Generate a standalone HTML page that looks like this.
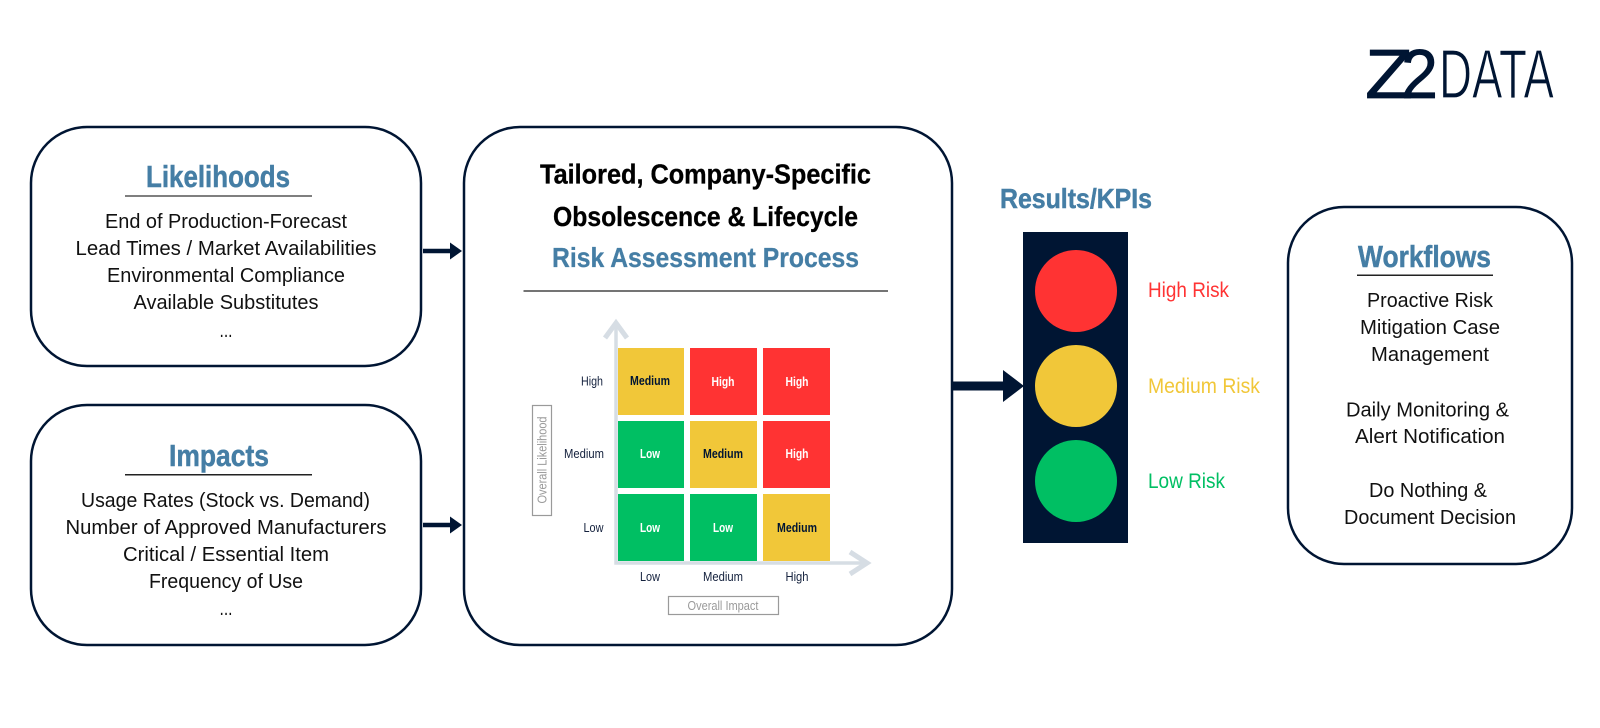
<!DOCTYPE html>
<html lang="en">
<head>
<meta charset="utf-8">
<title>Risk Assessment Process</title>
<style>
html,body{margin:0;padding:0;background:#fff;width:1600px;height:728px;overflow:hidden}
svg{display:block}
text{font-family:"Liberation Sans",sans-serif}
.b{fill:#111;font-size:20px}
.t{fill:#457ea5;stroke:#457ea5;stroke-width:.5px;font-weight:700;font-size:31px}
.c{font-weight:700;font-size:28px;fill:#000;stroke:#000;stroke-width:.3px}
.m{font-size:13px;font-weight:700}
.a{font-size:12.5px;fill:#14213d}
.g{font-size:12.5px;fill:#9a9a9a}
.r{font-size:21px}
</style>
</head>
<body>
<svg width="1600" height="728" viewBox="0 0 1600 728" xmlns="http://www.w3.org/2000/svg" text-anchor="middle">
<rect width="1600" height="728" fill="#fff"/>

<!-- logo -->
<text x="1365" y="98" font-size="70" fill="#001533" stroke="#001533" stroke-width=".8" text-anchor="start" textLength="48" lengthAdjust="spacingAndGlyphs">Z</text>
<text x="1401" y="98" font-size="70" fill="#001533" stroke="#001533" stroke-width=".8" text-anchor="start" textLength="37" lengthAdjust="spacingAndGlyphs">2</text>
<text x="1439" y="98" font-size="70" fill="#001533" stroke="#fff" stroke-width="1.2" text-anchor="start" textLength="115" lengthAdjust="spacingAndGlyphs">DATA</text>

<!-- boxes -->
<g fill="#fff" stroke="#001533" stroke-width="2.5">
<rect x="31" y="127" width="390" height="239" rx="56"/>
<rect x="31" y="405" width="390" height="240" rx="56"/>
<rect x="464" y="127" width="488" height="518" rx="56"/>
<rect x="1288" y="207" width="284" height="357" rx="56"/>
</g>

<!-- Likelihoods -->
<text class="t" x="218" y="187" textLength="144" lengthAdjust="spacingAndGlyphs">Likelihoods</text>
<line x1="125" y1="196" x2="312" y2="196" stroke="#555" stroke-width="1.5"/>
<text class="b" x="226" y="228" textLength="242" lengthAdjust="spacingAndGlyphs">End of Production-Forecast</text>
<text class="b" x="226" y="255" textLength="301" lengthAdjust="spacingAndGlyphs">Lead Times / Market Availabilities</text>
<text class="b" x="226" y="282" textLength="238" lengthAdjust="spacingAndGlyphs">Environmental Compliance</text>
<text class="b" x="226" y="309" textLength="185" lengthAdjust="spacingAndGlyphs">Available Substitutes</text>
<text class="b" x="226" y="337" textLength="13" lengthAdjust="spacingAndGlyphs">...</text>

<!-- Impacts -->
<text class="t" x="219" y="466" textLength="100" lengthAdjust="spacingAndGlyphs">Impacts</text>
<line x1="125" y1="474.7" x2="312" y2="474.7" stroke="#222" stroke-width="1.5"/>
<text class="b" x="225.500" y="507" textLength="289" lengthAdjust="spacingAndGlyphs">Usage Rates (Stock vs. Demand)</text>
<text class="b" x="226" y="534" textLength="321" lengthAdjust="spacingAndGlyphs">Number of Approved Manufacturers</text>
<text class="b" x="226" y="561" textLength="206" lengthAdjust="spacingAndGlyphs">Critical / Essential Item</text>
<text class="b" x="226" y="588" textLength="154" lengthAdjust="spacingAndGlyphs">Frequency of Use</text>
<text class="b" x="226" y="615" textLength="13" lengthAdjust="spacingAndGlyphs">...</text>

<!-- small arrows -->
<g fill="#001533">
<polygon points="423,248.7 450,248.7 450,242.500 462,251 450,259.500 450,253.300 423,253.300"/>
<polygon points="423,522.700 450,522.700 450,516.500 462,525 450,533.500 450,527.300 423,527.300"/>
<polygon points="953,381.500 1003,381.500 1003,370 1024,386 1003,402 1003,390.500 953,390.500"/>
</g>

<!-- center heading -->
<text class="c" x="705.500" y="183.500" textLength="331" lengthAdjust="spacingAndGlyphs">Tailored, Company-Specific</text>
<text class="c" x="705.500" y="226" textLength="305" lengthAdjust="spacingAndGlyphs">Obsolescence &amp; Lifecycle</text>
<text class="c" x="705.500" y="267" textLength="307" lengthAdjust="spacingAndGlyphs" style="fill:#457ea5;stroke:#457ea5">Risk Assessment Process</text>
<line x1="523.500" y1="291" x2="888" y2="291" stroke="#222" stroke-width="1.3"/>

<!-- matrix axes -->
<g fill="none" stroke="#d6dde4">
<path d="M616 324V563H868" stroke-width="3.500"/>
<path d="M605 338L616 323L627 338" stroke-width="5"/>
<path d="M850 552L867 563L850 574" stroke-width="5"/>
</g>

<!-- matrix cells -->
<g>
<rect x="618" y="348" width="66" height="67" fill="#f1c739"/>
<rect x="690" y="348" width="67" height="67" fill="#ff3333"/>
<rect x="763" y="348" width="67" height="67" fill="#ff3333"/>
<rect x="618" y="421" width="66" height="67" fill="#00bf63"/>
<rect x="690" y="421" width="67" height="67" fill="#f1c739"/>
<rect x="763" y="421" width="67" height="67" fill="#ff3333"/>
<rect x="618" y="494" width="66" height="67" fill="#00bf63"/>
<rect x="690" y="494" width="67" height="67" fill="#00bf63"/>
<rect x="763" y="494" width="67" height="67" fill="#f1c739"/>
</g>
<text class="m" x="650" y="385" fill="#001533" textLength="40" lengthAdjust="spacingAndGlyphs">Medium</text>
<text class="m" x="723" y="386" fill="#fff" textLength="23" lengthAdjust="spacingAndGlyphs">High</text>
<text class="m" x="797" y="386" fill="#fff" textLength="23" lengthAdjust="spacingAndGlyphs">High</text>
<text class="m" x="650" y="458" fill="#fff" textLength="20" lengthAdjust="spacingAndGlyphs">Low</text>
<text class="m" x="723" y="458" fill="#001533" textLength="40" lengthAdjust="spacingAndGlyphs">Medium</text>
<text class="m" x="797" y="458" fill="#fff" textLength="23" lengthAdjust="spacingAndGlyphs">High</text>
<text class="m" x="650" y="532" fill="#fff" textLength="20" lengthAdjust="spacingAndGlyphs">Low</text>
<text class="m" x="723" y="532" fill="#fff" textLength="20" lengthAdjust="spacingAndGlyphs">Low</text>
<text class="m" x="797" y="532" fill="#001533" textLength="40" lengthAdjust="spacingAndGlyphs">Medium</text>

<!-- axis labels -->
<text class="a" x="592" y="385.500" textLength="22" lengthAdjust="spacingAndGlyphs">High</text>
<text class="a" x="584" y="458" textLength="40" lengthAdjust="spacingAndGlyphs">Medium</text>
<text class="a" x="593.500" y="532" textLength="20" lengthAdjust="spacingAndGlyphs">Low</text>
<text class="a" x="650" y="581" textLength="20" lengthAdjust="spacingAndGlyphs">Low</text>
<text class="a" x="723" y="581" textLength="40" lengthAdjust="spacingAndGlyphs">Medium</text>
<text class="a" x="797" y="581" textLength="23" lengthAdjust="spacingAndGlyphs">High</text>

<rect x="532.500" y="405.500" width="19" height="110" fill="none" stroke="#9a9a9a" stroke-width="1.2"/>
<text class="g" transform="translate(546.300,460) rotate(-90)" textLength="87" lengthAdjust="spacingAndGlyphs">Overall Likelihood</text>
<rect x="668.500" y="596.500" width="110" height="18" fill="none" stroke="#9a9a9a" stroke-width="1.2"/>
<text class="g" x="723" y="610" textLength="71" lengthAdjust="spacingAndGlyphs">Overall Impact</text>

<!-- Results -->
<text class="t" x="1076" y="208" textLength="152" lengthAdjust="spacingAndGlyphs" style="font-size:28px">Results/KPIs</text>
<rect x="1023" y="232" width="105" height="311" fill="#001533"/>
<circle cx="1076" cy="291" r="41" fill="#ff3333"/>
<circle cx="1076" cy="386" r="41" fill="#f1c739"/>
<circle cx="1076" cy="481" r="41" fill="#00bf63"/>
<text class="r" x="1148" y="297" fill="#ff3333" text-anchor="start" textLength="81" lengthAdjust="spacingAndGlyphs">High Risk</text>
<text class="r" x="1148" y="393" fill="#f1c739" text-anchor="start" textLength="112" lengthAdjust="spacingAndGlyphs">Medium Risk</text>
<text class="r" x="1148" y="488" fill="#00bf63" text-anchor="start" textLength="77" lengthAdjust="spacingAndGlyphs">Low Risk</text>

<!-- Workflows -->
<text class="t" x="1424.500" y="267" textLength="133" lengthAdjust="spacingAndGlyphs">Workflows</text>
<line x1="1357" y1="275.300" x2="1493" y2="275.300" stroke="#222" stroke-width="1.5"/>
<text class="b" x="1430" y="307" textLength="126" lengthAdjust="spacingAndGlyphs">Proactive Risk</text>
<text class="b" x="1430" y="334" textLength="140" lengthAdjust="spacingAndGlyphs">Mitigation Case</text>
<text class="b" x="1430" y="361" textLength="118" lengthAdjust="spacingAndGlyphs">Management</text>
<text class="b" x="1427.500" y="416.500" textLength="163" lengthAdjust="spacingAndGlyphs">Daily Monitoring &amp;</text>
<text class="b" x="1430" y="443" textLength="150" lengthAdjust="spacingAndGlyphs">Alert Notification</text>
<text class="b" x="1428" y="497" textLength="118" lengthAdjust="spacingAndGlyphs">Do Nothing &amp;</text>
<text class="b" x="1430" y="524" textLength="172" lengthAdjust="spacingAndGlyphs">Document Decision</text>
</svg>
</body>
</html>
